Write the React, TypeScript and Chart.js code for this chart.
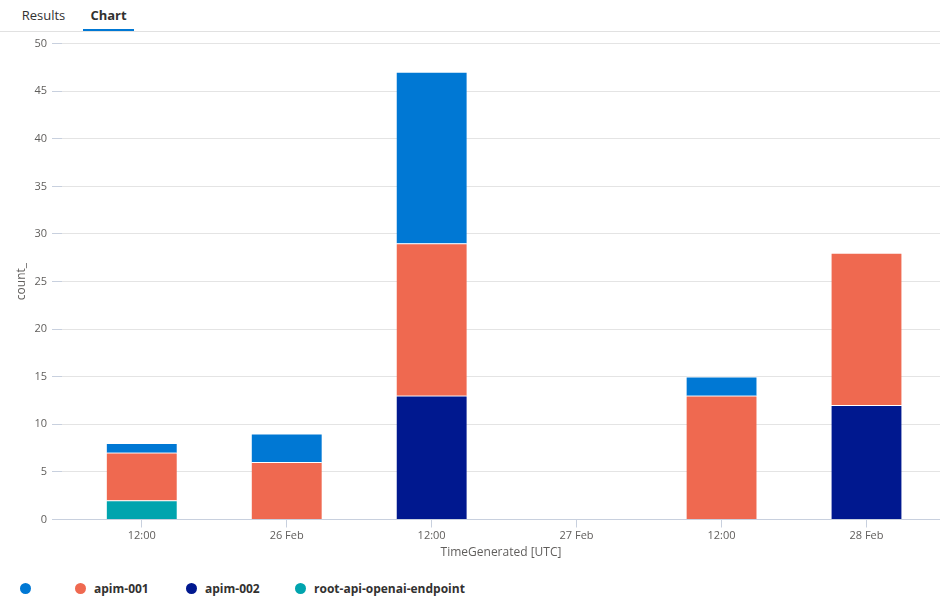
import React, { useEffect, useRef } from 'react';
import { Chart, registerables } from 'chart.js';

Chart.register(...registerables);

// ---- data ----
const categories = ['12:00', '26 Feb', '12:00', '27 Feb', '12:00', '28 Feb'];
const seriesNames = ['', 'apim-001', 'apim-002', 'root-api-openai-endpoint'];
const seriesColors = ['#0078d4', '#ef6950', '#00188f', '#00a4ae'];
const blankValues = [1, 3, 18, null, 2, null];
const apim001Values = [5, 6, 16, null, 13, 16];
const apim002Values = [null, null, 13, null, null, 12];
const rootValues = [2, null, null, null, null, null];
const yMin = 0;
const yMax = 50;
const yStep = 5;
const xTitle = 'TimeGenerated [UTC]';
const yTitle = 'count_';
const tabs = ['Results', 'Chart'];

const FONT = "'Segoe UI', 'Open Sans', 'Noto Sans', sans-serif";
const TICK_COLOR = '#605e5c';
const GRID_COLOR = '#e4e4e4';
const AXIS_COLOR = '#c8d0de';

const seriesValues = [blankValues, apim001Values, apim002Values, rootValues];

export default function App() {
  const canvasRef = useRef<HTMLCanvasElement | null>(null);

  useEffect(() => {
    if (!canvasRef.current) return;
    // stack bottom-up: last series first
    const order = [3, 2, 1, 0];
    const datasets = order.map((si) => ({
      label: seriesNames[si],
      data: seriesValues[si].map((v, i) => ({ x: i, y: v })),
      backgroundColor: seriesColors[si],
      borderColor: '#ffffff',
      borderWidth: { top: 1, right: 0, bottom: 0, left: 0 },
      borderSkipped: 'start' as const,
      barThickness: 70,
    }));

    const chart = new Chart(canvasRef.current, {
      type: 'bar',
      data: { datasets: datasets as any },
      options: {
        animation: false,
        responsive: true,
        maintainAspectRatio: false,
        layout: { padding: { top: 10, right: 0, bottom: 0, left: 0 } },
        plugins: {
          legend: { display: false },
          tooltip: { enabled: false },
        },
        scales: {
          x: {
            type: 'linear',
            stacked: true,
            offset: false,
            min: -0.55,
            max: 5.507,
            afterFit: (scale: any) => {
              scale.height = 52.5;
            },
            grid: {
              offset: false,
              drawOnChartArea: false,
              drawTicks: true,
              tickLength: 8,
              color: AXIS_COLOR,
              tickColor: AXIS_COLOR,
            },
            border: { display: false },
            ticks: {
              stepSize: 1,
              includeBounds: false,
              autoSkip: false,
              maxRotation: 0,
              padding: 2,
              color: TICK_COLOR,
              font: { family: FONT, size: 11 },
              callback: (value: any) => {
                const v = Number(value);
                return Number.isInteger(v) && v >= 0 && v < categories.length ? categories[v] : '';
              },
            },
            title: {
              display: true,
              text: xTitle,
              color: TICK_COLOR,
              font: { family: FONT, size: 12 },
              padding: { top: 0, bottom: 12 },
            },
          },
          y: {
            stacked: true,
            min: yMin,
            max: yMax,
            afterFit: (scale: any) => {
              scale.width = 62;
            },
            grid: {
              drawTicks: true,
              tickLength: 10,
              color: (ctx: any) => (ctx.tick && ctx.tick.value === 0 ? AXIS_COLOR : GRID_COLOR),
              tickColor: AXIS_COLOR,
            },
            border: { display: false },
            ticks: {
              stepSize: yStep,
              padding: 5,
              color: TICK_COLOR,
              font: { family: FONT, size: 11 },
            },
            title: {
              display: true,
              text: yTitle,
              color: TICK_COLOR,
              font: { family: FONT, size: 12 },
              padding: { top: 14, bottom: 0 },
            },
          },
        },
      },
    });
    return () => chart.destroy();
  }, []);

  const legendLefts = [20, 75, 186, 295];

  return (
    <div
      style={{
        position: 'absolute',
        left: 0,
        top: 0,
        width: 940,
        height: 600,
        background: '#fff',
        fontFamily: FONT,
        overflow: 'hidden',
      }}
    >
      {/* tab header */}
      <div
        style={{
          position: 'absolute',
          left: 0,
          top: 0,
          width: 940,
          height: 31,
          borderBottom: '1px solid #e1e1e1',
        }}
      >
        {tabs.map((t, i) => {
          const active = i === 1;
          const left = i === 0 ? 14 : 83;
          const width = i === 0 ? 59 : 51;
          return (
            <div
              key={t}
              style={{
                position: 'absolute',
                left,
                top: 0,
                width,
                height: 31,
                textAlign: 'center',
                lineHeight: '30px',
                fontSize: 13,
                fontWeight: active ? 700 : 400,
                color: '#323130',
              }}
            >
              {t}
              {active && (
                <div
                  style={{
                    position: 'absolute',
                    left: 0,
                    bottom: 0,
                    width,
                    height: 2,
                    background: '#0078d4',
                  }}
                />
              )}
            </div>
          );
        })}
      </div>

      {/* chart */}
      <div style={{ position: 'absolute', left: 0, top: 32, width: 940, height: 540 }}>
        <canvas ref={canvasRef} />
      </div>

      {/* legend */}
      {seriesNames.map((name, i) => (
        <div
          key={i}
          style={{
            position: 'absolute',
            left: legendLefts[i],
            top: 580,
            height: 16,
            display: 'flex',
            alignItems: 'center',
            whiteSpace: 'nowrap',
          }}
        >
          <span
            style={{
              display: 'inline-block',
              width: 11,
              height: 11,
              borderRadius: '50%',
              background: seriesColors[i],
              marginRight: 8,
            }}
          />
          <span style={{ fontSize: 12, fontWeight: 700, color: '#323130' }}>{name}</span>
        </div>
      ))}
    </div>
  );
}
